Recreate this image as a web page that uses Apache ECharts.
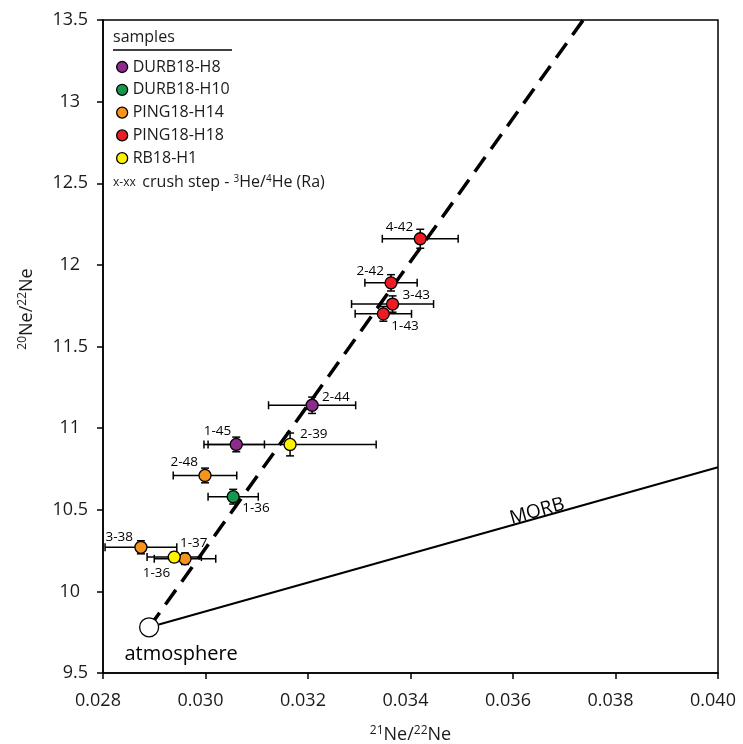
<!DOCTYPE html>
<html>
<head>
<meta charset="utf-8">
<script src="https://cdn.jsdelivr.net/npm/echarts@6/dist/echarts.min.js"></script>
<style>
html,body{margin:0;padding:0;background:#fff;}
#chart{width:743px;height:744px;}
</style>
</head>
<body>
<div id="chart"></div>
<script>
// ---------- DATA ----------
const sampleNames = ['DURB18-H8', 'DURB18-H10', 'PING18-H14', 'PING18-H18', 'RB18-H1'];

// DURB18-H8
const durbH8Steps = ['1-45', '2-44'];
const durbH8X = [0.03060, 0.03208];
const durbH8Y = [10.90, 11.14];
const durbH8XErr = [0.00055, 0.00085];
const durbH8YErr = [0.045, 0.05];

// DURB18-H10
const durbH10Steps = ['1-36'];
const durbH10X = [0.03054];
const durbH10Y = [10.58];
const durbH10XErr = [0.00049];
const durbH10YErr = [0.045];

// PING18-H14
const pingH14Steps = ['3-38', '2-48', '1-37'];
const pingH14X = [0.02874, 0.02999, 0.02960];
const pingH14Y = [10.27, 10.71, 10.20];
const pingH14XErr = [0.00070, 0.00062, 0.00060];
const pingH14YErr = [0.04, 0.045, 0.035];

// PING18-H18
const pingH18Steps = ['4-42', '2-42', '3-43', '1-43'];
const pingH18X = [0.03419, 0.03362, 0.03365, 0.03347];
const pingH18Y = [12.16, 11.89, 11.76, 11.70];
const pingH18XErr = [0.00074, 0.00051, 0.00080, 0.00055];
const pingH18YErr = [0.058, 0.05, 0.05, 0.045];

// RB18-H1
const rbH1Steps = ['1-36', '2-39'];
const rbH1X = [0.02939, 0.03165];
const rbH1Y = [10.21, 10.90];
const rbH1XErr = [0.00053, 0.00168];
const rbH1YErr = [0.03, 0.07];

// Atmosphere and reference lines
const atmosphereX = [0.0289];
const atmosphereY = [9.78];
const morbLineX = [0.0289, 0.0400];
const morbLineY = [9.78, 10.76];
const mixLineX = [0.0289, 0.03737];
const mixLineY = [9.78, 13.5];
const morbLabelX = [0.03647];
const morbLabelY = [10.49];

// Axis ticks
const xTicks = [0.028, 0.030, 0.032, 0.034, 0.036, 0.038, 0.040];
const yTicks = [9.5, 10, 10.5, 11, 11.5, 12, 12.5, 13, 13.5];

// ---------- STYLE ----------
const FONT = '"Open Sans", "Noto Sans", sans-serif';
const TXT = '#1a1a1a';
const sampleColors = ['#8E2C8E', '#14994A', '#F7941D', '#ED1C24', '#FFF200'];
// label placement for each crush step label (style only)
const labelPlacement = {
  'DURB18-H8': [['right', -5, -13], ['left', 10, -8]],
  'DURB18-H10': [['left', 9, 11]],
  'PING18-H14': [['right', -8, -10], ['right', -7, -13], ['left', -5, -16]],
  'PING18-H18': [['right', -7, -12], ['right', -7, -12], ['left', 10, -9], ['left', 8, 12]],
  'RB18-H1': [['right', -4, 16], ['left', 10, -10]]
};

const samples = [
  {name: sampleNames[0], steps: durbH8Steps, x: durbH8X, y: durbH8Y, xe: durbH8XErr, ye: durbH8YErr},
  {name: sampleNames[1], steps: durbH10Steps, x: durbH10X, y: durbH10Y, xe: durbH10XErr, ye: durbH10YErr},
  {name: sampleNames[2], steps: pingH14Steps, x: pingH14X, y: pingH14Y, xe: pingH14XErr, ye: pingH14YErr},
  {name: sampleNames[3], steps: pingH18Steps, x: pingH18X, y: pingH18Y, xe: pingH18XErr, ye: pingH18YErr},
  {name: sampleNames[4], steps: rbH1Steps, x: rbH1X, y: rbH1Y, xe: rbH1XErr, ye: rbH1YErr}
];

const chart = echarts.init(document.getElementById('chart'), null, {renderer: 'canvas'});

const series = [];

// reference lines
series.push({
  type: 'line', name: 'mix', silent: true, symbol: 'none', z: 1,
  data: mixLineX.map((v, i) => [v, mixLineY[i]]),
  lineStyle: {color: '#000', width: 3.5, type: [18, 10], opacity: 1},
  clip: true
});
series.push({
  type: 'line', name: 'MORBline', silent: true, symbol: 'none', z: 1,
  data: morbLineX.map((v, i) => [v, morbLineY[i]]),
  lineStyle: {color: '#000', width: 2, opacity: 1}
});
// MORB text
series.push({
  type: 'scatter', name: 'MORBlabel', silent: true, symbolSize: 1, z: 5,
  itemStyle: {opacity: 0},
  data: morbLabelX.map((v, i) => [v, morbLabelY[i]]),
  label: {show: true, position: 'inside', formatter: 'MORB', rotate: 15.7,
    fontFamily: FONT, fontSize: 19, color: '#000', opacity: 1}
});

// error bars
const errData = [];
samples.forEach(s => s.x.forEach((v, i) => errData.push([v, s.y[i], s.xe[i], s.ye[i]])));
series.push({
  type: 'custom', name: 'errors', silent: true, z: 2,
  data: errData,
  renderItem: function (params, api) {
    const x = api.value(0), y = api.value(1), xe = api.value(2), ye = api.value(3);
    const l = api.coord([x - xe, y]), r = api.coord([x + xe, y]);
    const t = api.coord([x, y + ye]), b = api.coord([x, y - ye]);
    const cap = 4;
    const st = {stroke: '#000', lineWidth: 1.5};
    const ln = (x1, y1, x2, y2) => ({type: 'line', shape: {x1, y1, x2, y2}, style: st});
    return {type: 'group', children: [
      ln(l[0], l[1], r[0], r[1]),
      ln(l[0], l[1] - cap, l[0], l[1] + cap),
      ln(r[0], r[1] - cap, r[0], r[1] + cap),
      ln(t[0], t[1], b[0], b[1]),
      ln(t[0] - cap, t[1], t[0] + cap, t[1]),
      ln(b[0] - cap, b[1], b[0] + cap, b[1])
    ]};
  }
});

// sample points
samples.forEach((s, si) => {
  series.push({
    type: 'scatter', name: s.name, symbol: 'circle', symbolSize: 12, z: 4,
    itemStyle: {color: sampleColors[si], borderColor: '#000', borderWidth: 1.3, opacity: 1},
    data: s.x.map((v, i) => {
      const p = labelPlacement[s.name][i];
      return {
        value: [v, s.y[i]],
        label: {show: true, position: 'inside', align: p[0] === 'left' ? 'left' : 'right',
          verticalAlign: 'middle', offset: [p[1], p[2]], formatter: s.steps[i],
          fontFamily: FONT, fontSize: 13.5, color: '#000'}
      };
    })
  });
});

// atmosphere
series.push({
  type: 'scatter', name: 'atmosphere', symbol: 'circle', symbolSize: 19, z: 4,
  itemStyle: {color: '#fff', borderColor: '#000', borderWidth: 1.3, opacity: 1},
  data: atmosphereX.map((v, i) => [v, atmosphereY[i]]),
  label: {show: true, position: 'inside', offset: [32, 27], formatter: 'atmosphere',
    fontFamily: FONT, fontSize: 20, color: '#000'}
});

const option = {
  backgroundColor: '#fff',
  animation: false,
  grid: {left: 103, right: 25, top: 20, bottom: 71, show: true, borderColor: '#000', borderWidth: 1.5,
    containLabel: false, outerBoundsMode: 'none'},
  legend: {
    data: sampleNames, orient: 'vertical', left: 111, top: 53,
    icon: 'circle', itemWidth: 11, itemHeight: 11, itemGap: 4.8,
    itemStyle: {borderColor: '#000', borderWidth: 1.3},
    textStyle: {fontFamily: FONT, fontSize: 16, color: TXT, lineHeight: 18},
    selectedMode: false
  },
  xAxis: {
    type: 'value', min: xTicks[0], max: xTicks[xTicks.length - 1], interval: 0.002,
    splitLine: {show: false},
    axisLine: {show: true, lineStyle: {color: '#000', width: 1.5}},
    axisTick: {show: true, inside: false, length: 6, lineStyle: {color: '#000', width: 1.5}},
    axisLabel: {margin: 19, fontFamily: FONT, fontSize: 18, color: TXT, padding: [0, 10, 0, 0],
      formatter: v => v.toFixed(3)},
    name: '{sup|21}{n|Ne/}{sup|22}{n|Ne}', nameLocation: 'middle', nameGap: 52,
    nameTextStyle: {rich: {
      n: {fontFamily: FONT, fontSize: 18, color: TXT},
      sup: {fontFamily: FONT, fontSize: 12, color: TXT, padding: [0, 0, 8, 0]}
    }}
  },
  yAxis: {
    type: 'value', min: yTicks[0], max: yTicks[yTicks.length - 1], interval: 0.5,
    splitLine: {show: false},
    axisLine: {show: true, lineStyle: {color: '#000', width: 1.5}},
    axisTick: {show: true, inside: false, length: 6, lineStyle: {color: '#000', width: 1.5}},
    axisLabel: {margin: 15, fontFamily: FONT, fontSize: 18, color: TXT,
      formatter: v => (Math.abs(v % 1) < 1e-9 ? '{i|' + v + '}' : '{d|' + v + '}'),
      rich: {i: {fontFamily: FONT, fontSize: 18, color: TXT, padding: [0, 8, 0, 0]},
             d: {fontFamily: FONT, fontSize: 18, color: TXT}}}
  },
  graphic: [
    {type: 'text', left: 113, top: 29, style: {text: 'samples', font: '16px ' + FONT, fill: TXT}},
    {type: 'line', shape: {x1: 113, y1: 50, x2: 232, y2: 50}, style: {stroke: '#000', lineWidth: 1.5}},
    {type: 'text', left: 113, top: 174, style: {
      text: '{s|x-xx}  {n|crush step - }{sup|3}{n|He/}{sup|4}{n|He (Ra)}',
      rich: {
        s: {fontFamily: FONT, fontSize: 12, fill: TXT},
        n: {fontFamily: FONT, fontSize: 16, fill: TXT},
        sup: {fontFamily: FONT, fontSize: 10, fill: TXT, padding: [0, 0, 7, 0]}
      }}},
    {type: 'text', x: 27, y: 309, rotation: Math.PI / 2, style: {
      text: '{sup|20}{n|Ne/}{sup|22}{n|Ne}', align: 'center', verticalAlign: 'middle',
      rich: {
        n: {fontFamily: FONT, fontSize: 18, fill: TXT},
        sup: {fontFamily: FONT, fontSize: 12, fill: TXT, padding: [0, 0, 8, 0]}
      }}}
  ],
  series: series
};
chart.setOption(option);
</script>
</body>
</html>
